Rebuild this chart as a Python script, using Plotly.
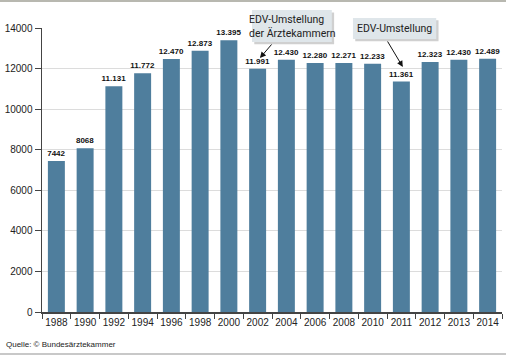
import plotly.graph_objects as go

years = ["1988", "1990", "1992", "1994", "1996", "1998", "2000", "2002",
         "2004", "2006", "2008", "2010", "2011", "2012", "2013", "2014"]
values = [7442, 8068, 11131, 11772, 12470, 12873, 13395, 11991,
          12430, 12280, 12271, 12233, 11361, 12323, 12430, 12489]
y_ticks = [0, 2000, 4000, 6000, 8000, 10000, 12000, 14000]

def de_fmt(v):
    return f"{v:,}".replace(",", ".") if v >= 10000 else str(v)

labels = [de_fmt(v) for v in values]

BAR = "#4f7e9d"
fig = go.Figure()
fig.add_trace(go.Bar(
    x=years, y=values, marker=dict(color=BAR, line=dict(width=0)),
    text=labels, textposition="outside", cliponaxis=False,
    constraintext="none",
    textfont=dict(family="Liberation Sans, Arial", size=8, color="#111"),
    texttemplate="<b>%{text}</b>", hoverinfo="skip",
))

fig.update_layout(
    width=506, height=357,
    margin=dict(l=42, r=4, t=28, b=45, autoexpand=False),
    paper_bgcolor="white", plot_bgcolor="white",
    bargap=0.41, showlegend=False,
    font=dict(family="Liberation Sans, Arial", size=10, color="#222"),
)
fig.update_xaxes(
    type="category", tickson="boundaries", ticks="outside", ticklen=5,
    tickcolor="#444", showline=True, linecolor="#444", linewidth=1.5,
    showgrid=False, tickfont=dict(size=10, color="#222"),
    range=[-0.5, 15.5], tickangle=0, automargin=False,
)
fig.update_yaxes(
    range=[0, 14000], tickvals=y_ticks, tickformat="d",
    ticks="outside", ticklen=6, tickcolor="#444",
    showline=True, linecolor="#444", linewidth=1.5,
    showgrid=True, gridcolor="#dcdcdc", gridwidth=1,
    zeroline=False, tickfont=dict(size=10, color="#222"), automargin=False,
)

# frame lines top / bottom
fig.add_shape(type="line", xref="paper", yref="paper", x0=-0.0913, x1=1.009,
              y0=1.095, y1=1.095, line=dict(color="#b8b8b0", width=2))
fig.add_shape(type="line", xref="paper", yref="paper", x0=-0.0913, x1=1.009,
              y0=-0.148, y1=-0.148, line=dict(color="#c8c8c8", width=2))

BOXFILL = "#dfe6ea"
SHADOW = "rgba(120,120,120,0.35)"
boxes = [(0.4565, 0.630, 0.951, 1.063), (0.676, 0.857, 0.961, 1.035)]
for x0, x1, y0, y1 in boxes:
    fig.add_shape(type="rect", xref="paper", yref="paper",
                  x0=x0 + 0.005, x1=x1 + 0.005, y0=y0 - 0.008, y1=y1 - 0.008,
                  line=dict(width=0), fillcolor=SHADOW, layer="above")
    fig.add_shape(type="rect", xref="paper", yref="paper",
                  x0=x0, x1=x1, y0=y0, y1=y1,
                  line=dict(width=0), fillcolor=BOXFILL, layer="above")

callout_font = dict(family="Roboto, Liberation Sans", size=10.5, color="#222")
fig.add_annotation(xref="paper", yref="paper", x=0.5435, y=1.007,
                   xanchor="center", yanchor="middle",
                   text="EDV-Umstellung<br>der Ärztekammern", showarrow=False,
                   font=callout_font, align="left")
fig.add_annotation(xref="paper", yref="paper", x=0.7665, y=0.998,
                   xanchor="center", yanchor="middle",
                   text="EDV-Umstellung", showarrow=False, font=callout_font)

# arrows
fig.add_annotation(x=7.08, y=12521, ax=7.53, ay=13262, xref="x", yref="y",
                   axref="x", ayref="y", text="", showarrow=True,
                   arrowhead=2, arrowsize=1.2, arrowwidth=1, arrowcolor="#111")
fig.add_annotation(x=12.05, y=12079, ax=11.49, ay=13410, xref="x", yref="y",
                   axref="x", ayref="y", text="", showarrow=True,
                   arrowhead=2, arrowsize=1.2, arrowwidth=1, arrowcolor="#111")

fig.add_annotation(xref="paper", yref="paper", x=-0.083, y=-0.116,
                   xanchor="left", yanchor="middle", showarrow=False,
                   text="Quelle: © Bundesärztekammer",
                   font=dict(family="Liberation Sans, Arial", size=8, color="#222"))

fig.write_html(
    "out.html",
    config={"displayModeBar": False, "staticPlot": True},
    post_script=(
        "document.documentElement.style.overflow='hidden';"
        "document.body.style.margin='0';document.body.style.overflow='hidden';"
    ),
)
